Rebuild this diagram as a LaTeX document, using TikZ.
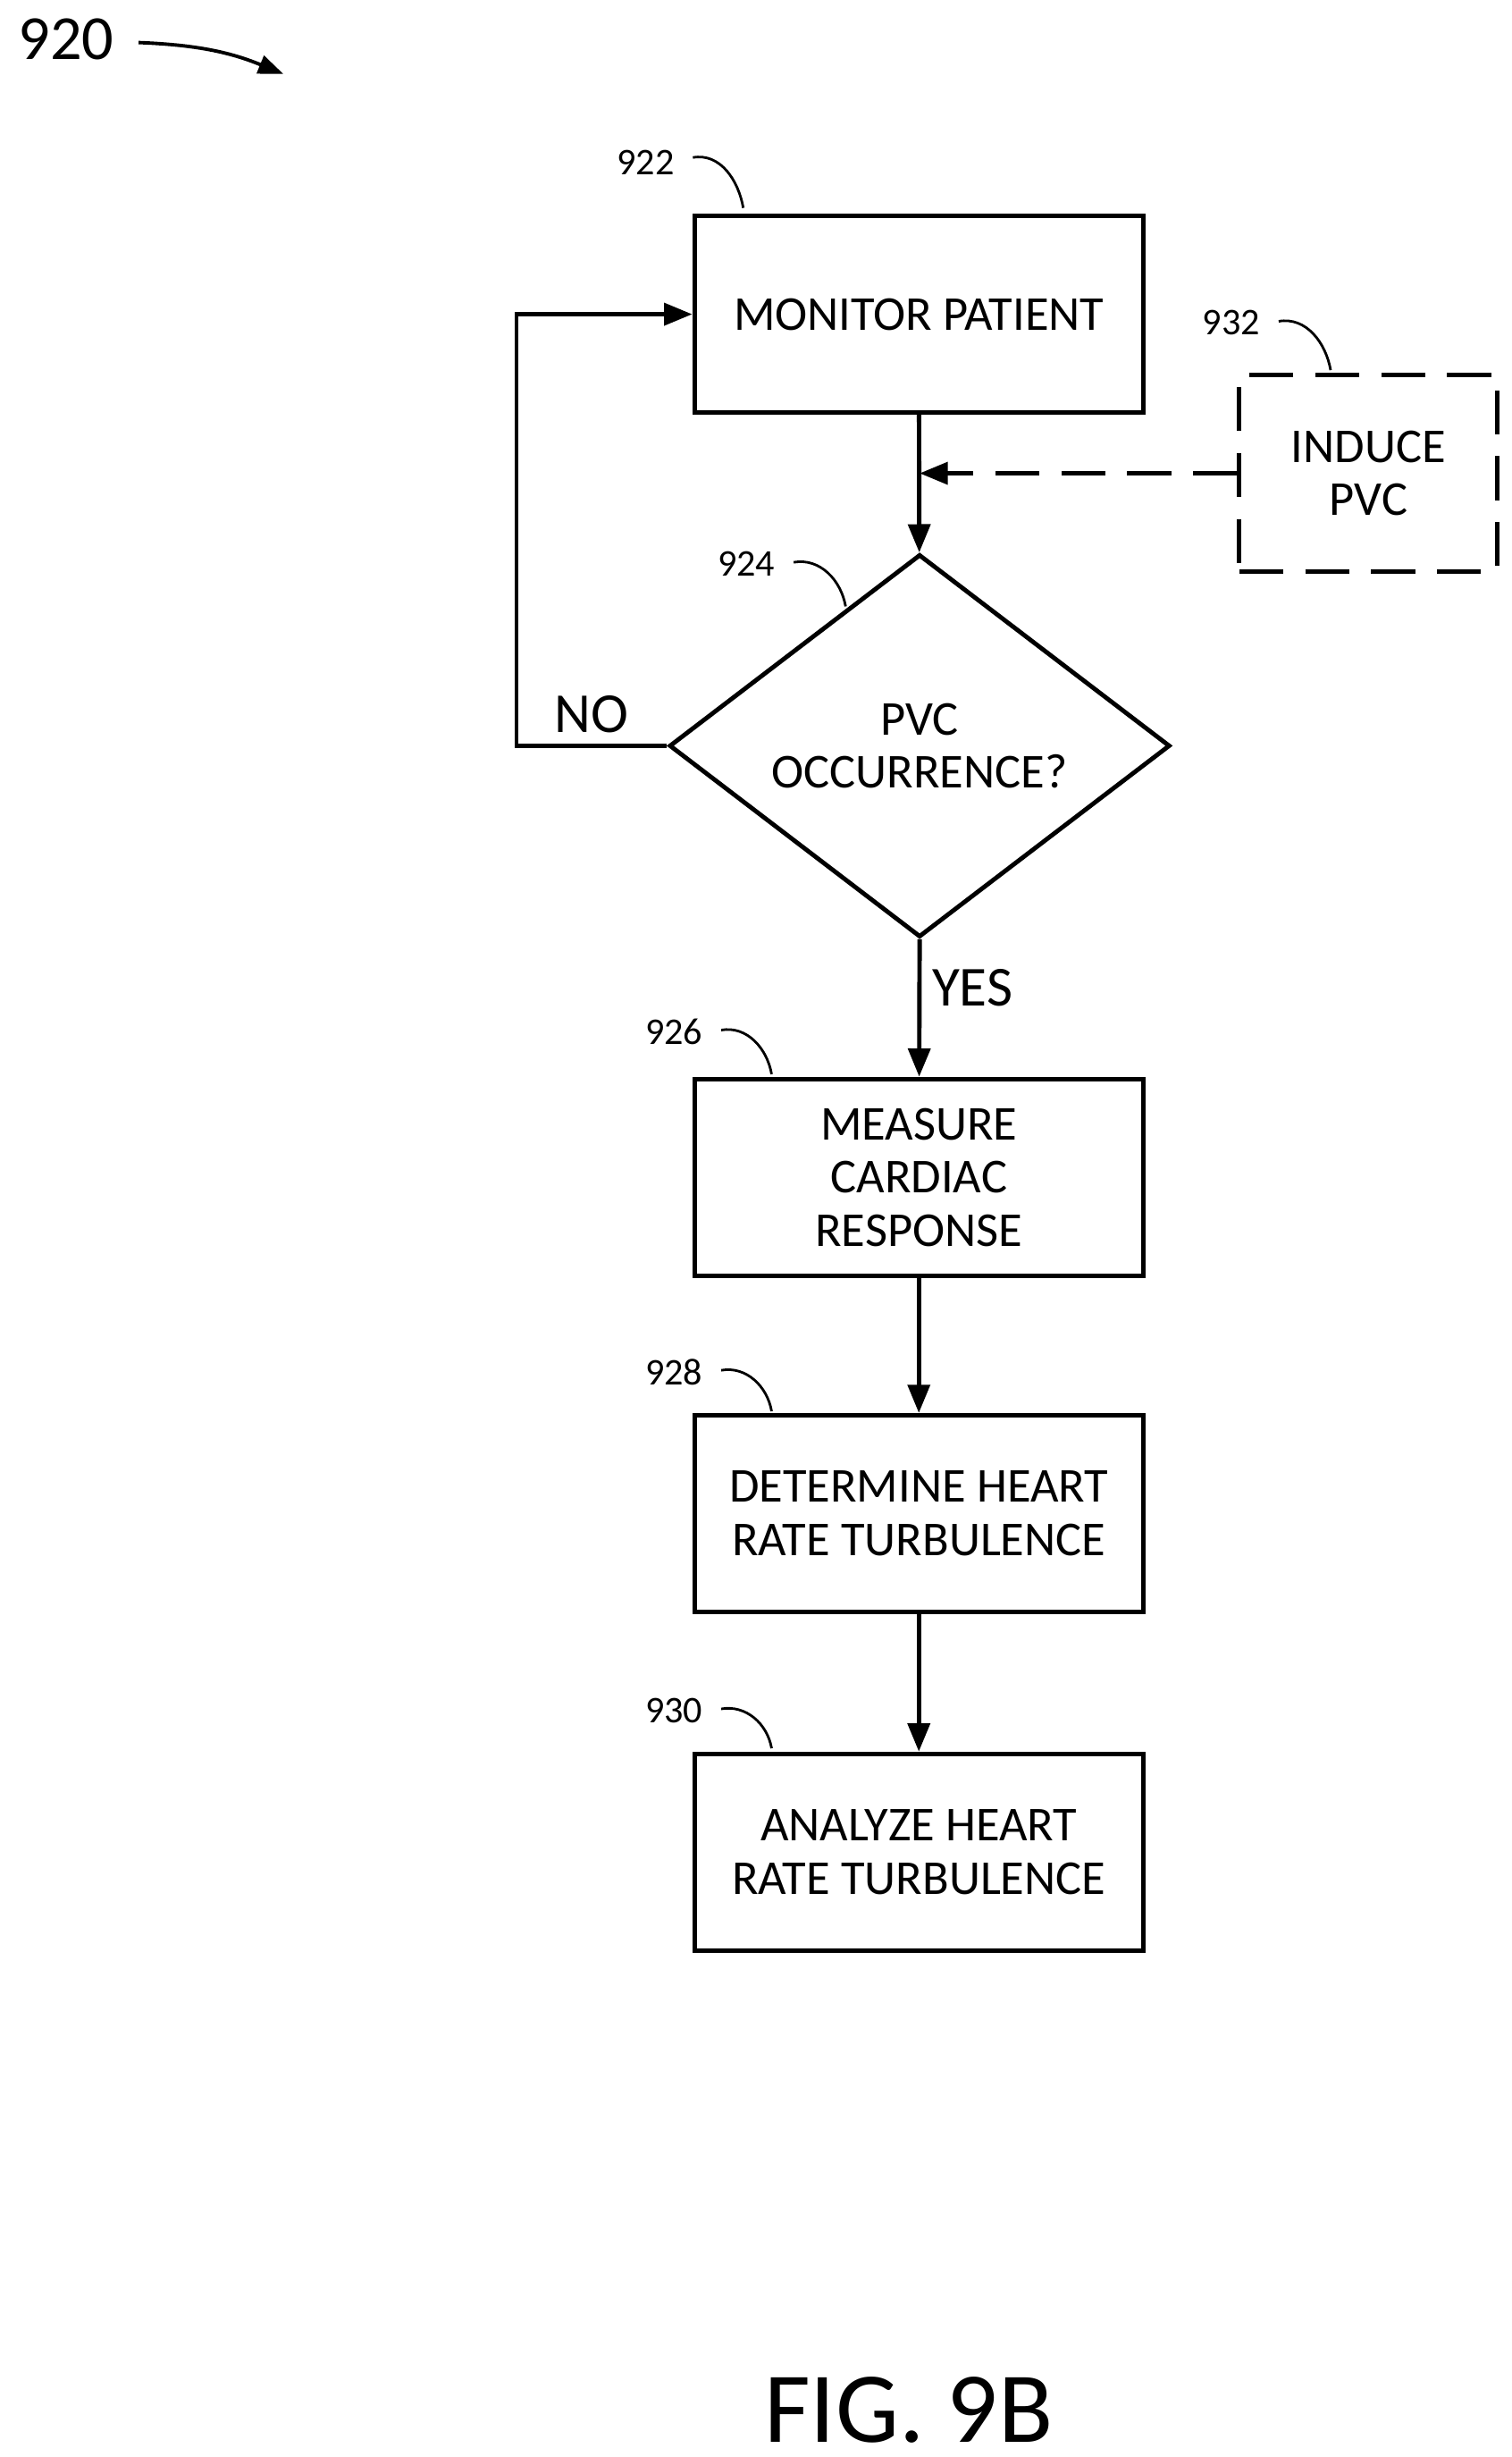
\documentclass[tikz,border=0pt]{standalone}
\usepackage{fontspec}
\setmainfont{Carlito}
\usetikzlibrary{shapes.geometric, arrows.meta, positioning}
\def\px{0.017625cm}
\tikzset{
    process/.style={rectangle, draw, line width=1.4pt, minimum width=285*\px, minimum height=125*\px,
        align=center, font=\fontsize{15.5}{17}\selectfont},
    decision/.style={diamond, draw, line width=1.4pt, minimum width=318*\px, minimum height=243*\px,
        align=center, inner sep=0pt, font=\fontsize{15.5}{17}\selectfont},
    arrow/.style={line width=1.4pt, -{Triangle[length=9pt,width=7pt]}},
    ref/.style={font=\fontsize{12}{14}\selectfont},
    leader/.style={line width=0.8pt},
    dashes/.style={dash pattern=on 14pt off 7pt}
}
\begin{document}
\begin{tikzpicture}[x=0.017625cm, y=-0.017625cm]
    \useasboundingbox (0,0) rectangle (960,1560);
    \node[process] (monitor) at (583.5,199.5) {MONITOR PATIENT};
    \node[process, dashes, minimum width=164*\px] (induce) at (869,300.5) {INDUCE\\PVC};
    \node[decision] (pvc) at (584,473.5) {PVC\\OCCURRENCE?};
    \node[process] (measure) at (583.5,747.5) {MEASURE\\CARDIAC\\RESPONSE};
    \node[process] (determine) at (583.5,961) {DETERMINE HEART\\RATE TURBULENCE};
    \node[process] (analyze) at (583.5,1176) {ANALYZE HEART\\RATE TURBULENCE};
    \coordinate (join) at (584,300.5);
    \coordinate (loopbot) at (328,473.5);
    \coordinate (looptop) at (328,199.5);

    \draw[arrow] (monitor) -- (pvc);
    \draw[arrow, dashes] (induce) -- (join);
    \draw[arrow] (pvc.south) -- node[right, pos=0.35, font=\fontsize{18}{20}\selectfont]{YES} (measure);
    \draw[arrow] (pvc.west) -- node[above, font=\fontsize{18}{20}\selectfont]{NO} (loopbot) -- (looptop) -- (monitor.west);
    \draw[arrow] (measure) -- (determine);
    \draw[arrow] (determine) -- (analyze);

    % reference numerals
    \node[ref] (n922) at (410,103) {922};
    \draw[leader] (440,100) to[out=10, in=100] (472,132);
    \node[ref] (n932) at (782,205) {932};
    \draw[leader] (812,204) to[out=10, in=100] (845,235);
    \node[ref] (n924) at (474,358) {924};
    \draw[leader] (504,357) to[out=10, in=100] (537,385);
    \node[ref] (n926) at (428,655) {926};
    \draw[leader] (458,654) to[out=10, in=100] (490,682);
    \node[ref] (n928) at (428,871) {928};
    \draw[leader] (458,870) to[out=10, in=100] (490,896);
    \node[ref] (n930) at (428,1086) {930};
    \draw[leader] (458,1085) to[out=10, in=100] (490,1110);

    \node[font=\fontsize{20}{24}\selectfont] (n920) at (42,25) {920};
    \draw[line width=1.1pt, -{Triangle[length=8pt,width=6pt]}] (88,27) to[bend left=10] (180,47);
    \node[font=\fontsize{32}{36}\selectfont] (fig) at (577,1530) {FIG. 9B};
\end{tikzpicture}
\end{document}
